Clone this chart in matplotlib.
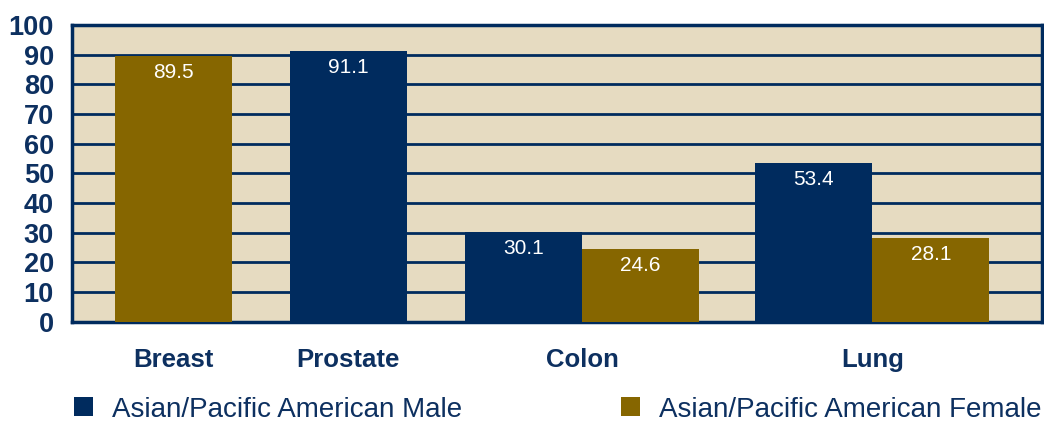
import numpy as np
import matplotlib
matplotlib.use("Agg")
import matplotlib.pyplot as plt

# datos
categories = ["Breast", "Prostate", "Colon", "Lung"]
male = [None, 91.1, 30.1, 53.4]
female = [89.5, None, 24.6, 28.1]
series_labels = ["Asian/Pacific American Male", "Asian/Pacific American Female"]

NAVY = "#002b5e"
OLIVE = "#866600"
BG = "#e6dbc1"
TXT = "#0d3060"

plt.rcParams['font.family'] = ['Liberation Sans', 'DejaVu Sans']

fig = plt.figure(figsize=(10.44, 4.24), dpi=100)
ax = fig.add_axes([0.069, 0.241, 0.929, 0.700])
ax.set_facecolor(BG)

# posiciones de grupo (en anchos de barra)
centers = [0.865, 2.36, 4.36, 6.84]
w = 1.0

def bar_x(i, kind):
    # categorías con una sola serie van centradas
    if male[i] is None or female[i] is None:
        return centers[i]
    return centers[i] - w / 2 if kind == "m" else centers[i] + w / 2

bars_m = []
bars_f = []
for i in range(len(categories)):
    if male[i] is not None:
        b = ax.bar(bar_x(i, "m"), male[i], width=w, color=NAVY, zorder=3)
        bars_m.append(b)
        ax.text(bar_x(i, "m"), male[i] - 5.5, f"{male[i]:.1f}", ha="center",
                va="center", color="white", fontsize=15, zorder=4)
    if female[i] is not None:
        b = ax.bar(bar_x(i, "f"), female[i], width=w, color=OLIVE, zorder=3)
        bars_f.append(b)
        ax.text(bar_x(i, "f"), female[i] - 5.5, f"{female[i]:.1f}", ha="center",
                va="center", color="white", fontsize=15, zorder=4)

ax.set_xlim(0, 8.29)
ax.set_ylim(0, 100)
ax.set_yticks(np.arange(0, 101, 10))
ax.yaxis.grid(True, color=NAVY, linewidth=2, zorder=1)
ax.set_axisbelow(True)
ax.tick_params(axis="y", length=0, pad=13, labelsize=19.5, labelcolor=TXT)
ax.tick_params(axis="x", length=0, pad=19, labelsize=18.5, labelcolor=TXT)
ax.set_xticks(centers)
ax.set_xticklabels(categories)
for lab in ax.get_yticklabels():
    lab.set_fontweight("bold")
for lab in ax.get_xticklabels():
    lab.set_fontweight("bold")
for s in ax.spines.values():
    s.set_color(NAVY)
    s.set_linewidth(2.5)

# leyenda: una entrada por serie, colocadas a mano
for handle, label, xpos in [(bars_m[0], series_labels[0], 74 / 1044),
                            (bars_f[0], series_labels[1], 621 / 1044)]:
    fig.legend([handle], [label], loc="center left", bbox_to_anchor=(xpos, 0.034),
               frameon=False, borderpad=0, borderaxespad=0,
               handlelength=0.68, handleheight=0.68, handletextpad=0.68,
               labelcolor=TXT, prop={"size": 20})

fig.savefig("out.png", dpi=100)
